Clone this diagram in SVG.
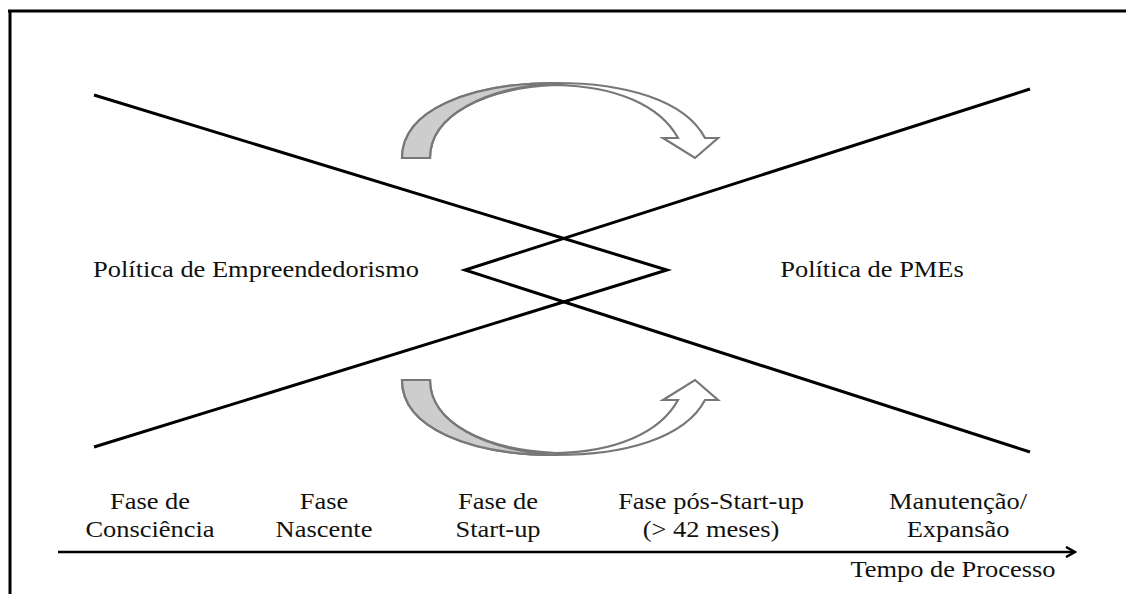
<svg xmlns="http://www.w3.org/2000/svg" width="1126" height="594" viewBox="0 0 1126 594">
  <defs>
    <style>
      .cross { fill: none; stroke: #000; stroke-width: 3; stroke-linejoin: miter; }
      .band { fill: #fff; stroke: #777; stroke-width: 2.2; stroke-linejoin: miter; }
      .back { fill: #cdcdcd; stroke: #777; stroke-width: 2.2; }
    </style>
    <marker id="open-head" viewBox="0 0 12 12" refX="10" refY="6" markerWidth="12" markerHeight="12" markerUnits="userSpaceOnUse" orient="auto">
      <path d="M1,1 L10,6 L1,11" fill="none" stroke="#000" stroke-width="2.5"/>
    </marker>
    <!-- curved arrow running left to right over the top -->
    <g id="curved-arrow">
      <path class="band" d="M402,158 C402,110 470,83 556,83 C625,83 685,100 705,138 L718,138 L695,158 L663,138 L678,138 C660,105 615,86 556,85 C485,88 430,115 430,158 Z"/>
      <path class="back" d="M402,158 C402,110 470,83 556,83 C485,88 430,115 430,158 Z"/>
    </g>
  </defs>

  <rect width="1126" height="594" fill="#fff"/>
  <!-- frame (top and left edges) -->
  <path d="M8,11 H1126 M10,10 V594" fill="none" stroke="#000" stroke-width="3"/>

  <g id="connectors">
    <polyline class="cross" points="94,95 667,270 94,447"/>
    <polyline class="cross" points="1030,89 465,270 1030,452"/>
    <use href="#curved-arrow"/>
    <use href="#curved-arrow" transform="matrix(1 0 0 -1 0 538)"/>
    <line x1="58" y1="552" x2="1075" y2="552" stroke="#000" stroke-width="2.5" marker-end="url(#open-head)"/>
  </g>

  <!-- labels use a slightly widened serif face -->
  <g font-family="Liberation Serif, Times New Roman, Tinos, DejaVu Serif, serif" font-size="23" fill="#111" text-anchor="middle">
    <g id="policy-entrepreneurship">
      <text transform="translate(256 277) scale(1.15 1)">Política de Empreendedorismo</text>
    </g>
    <g id="policy-smes">
      <text transform="translate(872 277) scale(1.15 1)">Política de PMEs</text>
    </g>

    <g id="phase-awareness">
      <text transform="translate(150 509) scale(1.15 1)">Fase de</text>
      <text transform="translate(150 537) scale(1.15 1)">Consciência</text>
    </g>
    <g id="phase-nascent">
      <text transform="translate(324 509) scale(1.15 1)">Fase</text>
      <text transform="translate(324 537) scale(1.15 1)">Nascente</text>
    </g>
    <g id="phase-startup">
      <text transform="translate(498 509) scale(1.15 1)">Fase de</text>
      <text transform="translate(498 537) scale(1.15 1)">Start-up</text>
    </g>
    <g id="phase-post-startup">
      <text transform="translate(711 509) scale(1.15 1)">Fase pós-Start-up</text>
      <text transform="translate(711 537) scale(1.15 1)">(&gt; 42 meses)</text>
    </g>
    <g id="phase-maintenance">
      <text transform="translate(958 509) scale(1.15 1)">Manutenção/</text>
      <text transform="translate(958 537) scale(1.15 1)">Expansão</text>
    </g>
    <g id="axis-label">
      <text transform="translate(953 577) scale(1.15 1)">Tempo de Processo</text>
    </g>
  </g>
</svg>
